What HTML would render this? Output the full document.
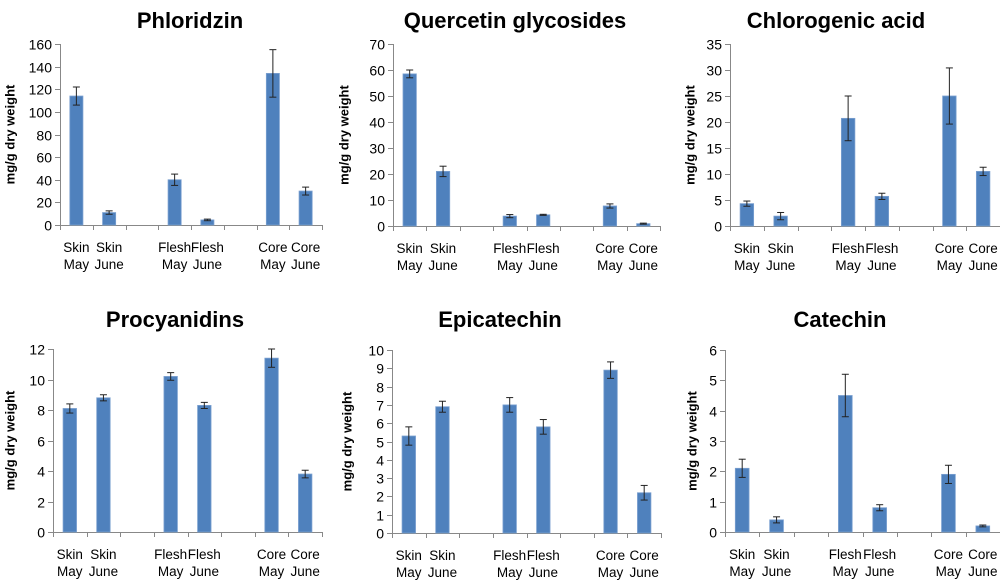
<!DOCTYPE html>
<html><head><meta charset="utf-8"><style>
html,body{margin:0;padding:0;background:#fff;width:1000px;height:580px;overflow:hidden}
svg text{font-family:"Liberation Sans",sans-serif}
</style></head><body>
<svg id="c" width="1000" height="580" xmlns="http://www.w3.org/2000/svg"></svg>
<script>
const categories = ["Skin May","Skin June","Flesh May","Flesh June","Core May","Core June"];
const slotIndex = [0,1,3,4,6,7];
const titles = ["Phloridzin","Quercetin glycosides","Chlorogenic acid","Procyanidins","Epicatechin","Catechin"];
const phloridzin = [114,11,40,4.5,134,30];
const phloridzinErr = [8,1.5,5,0.7,21,3.5];
const quercetin = [58.5,21,3.8,4.3,7.7,0.9];
const quercetinErr = [1.5,2,0.6,0.2,0.8,0.2];
const chlorogenic = [4.3,1.9,20.7,5.7,25,10.5];
const chlorogenicErr = [0.5,0.7,4.3,0.6,5.4,0.8];
const procyanidins = [8.1,8.8,10.2,8.3,11.4,3.8];
const procyanidinsErr = [0.3,0.2,0.25,0.2,0.6,0.25];
const epicatechin = [5.3,6.9,7.0,5.8,8.9,2.2];
const epicatechinErr = [0.5,0.3,0.4,0.4,0.45,0.4];
const catechin = [2.1,0.4,4.5,0.8,1.9,0.2];
const catechinErr = [0.3,0.1,0.7,0.1,0.3,0.03];
const yMax = [160,70,35,12,10,6];
const yStep = [20,10,5,2,1,1];

const values = [phloridzin,quercetin,chlorogenic,procyanidins,epicatechin,catechin];
const errs = [phloridzinErr,quercetinErr,chlorogenicErr,procyanidinsErr,epicatechinErr,catechinErr];
const boxes = [
 {x0:60,x1:322,y0:44,y1:225,tx:190,ty:28,lx:10},
 {x0:393,x1:660,y0:44,y1:226,tx:515,ty:28,lx:344},
 {x0:730,x1:1000,y0:44,y1:226,tx:836,ty:28,lx:690},
 {x0:53,x1:322,y0:349,y1:532,tx:175,ty:327,lx:10},
 {x0:392,x1:661,y0:350,y1:533,tx:500,ty:327,lx:347},
 {x0:725,x1:1000,y0:350,y1:532,tx:840,ty:327,lx:692}
];
const svg = document.getElementById('c');
const NS = "http://www.w3.org/2000/svg";
function mk(tag, attrs, parent){
  const e = document.createElementNS(NS, tag);
  for (const k in attrs) e.setAttribute(k, attrs[k]);
  (parent||svg).appendChild(e);
  return e;
}
boxes.forEach((b,p)=>{
  const g = mk('g',{});
  
  
  const yS = v => b.y1 - v/yMax[p]*(b.y1-b.y0);
  const slot = (b.x1-b.x0)/8;
  const xC = i => b.x0 + (slotIndex[i]+0.5)*slot;
  const t = mk('text',{x:b.tx,y:b.ty,'text-anchor':'middle','font-size':22,'font-weight':'bold',fill:'#000'},g);
  t.textContent = titles[p];
  
  
  const cy = (b.y0+b.y1)/2;
  const yl = mk('text',{x:b.lx,y:cy,transform:`rotate(-90 ${b.lx} ${cy})`,'text-anchor':'middle','dominant-baseline':'central','font-size':13,'font-weight':'bold',fill:'#000'},g);
  yl.textContent = 'mg/g dry weight';
  
  
  mk('line',{x1:b.x0+0.5,y1:b.y0,x2:b.x0+0.5,y2:b.y1,stroke:'#888','stroke-width':1},g);
  for (let v=0; v<=yMax[p]+1e-9; v+=yStep[p]){
    const y = Math.round(yS(v))+0.5;
    mk('line',{x1:b.x0-5,y1:y,x2:b.x0,y2:y,stroke:'#888'},g);
    const tl = mk('text',{x:b.x0-8,y:y+5,'text-anchor':'end','font-size':14,fill:'#000'},g);
    tl.textContent = String(v);
    
    
  }
  mk('line',{x1:b.x0,y1:b.y1+0.5,x2:b.x1,y2:b.y1+0.5,stroke:'#888'},g);
  for (let i=0;i<=8;i++){
    const x = Math.round(b.x0+i*slot)+0.5;
    mk('line',{x1:x,y1:b.y1,x2:x,y2:b.y1+5,stroke:'#888'},g);
  }
  categories.forEach((c,i)=>{
    const v = values[p][i], e = errs[p][i];
    const x = xC(i), w = slot*0.4;
    const r = mk('rect',{x:x-w/2,y:yS(v),width:w,height:b.y1-yS(v),fill:'#4f81bd',stroke:'#7ba0d0','stroke-width':0.8},g);
    
    
    const eg = mk('g',{stroke:'#222','stroke-width':1},g);
    
    
    mk('line',{x1:x,y1:yS(v+e),x2:x,y2:yS(v-e)},eg);
    mk('line',{x1:x-3.5,y1:yS(v+e),x2:x+3.5,y2:yS(v+e)},eg);
    mk('line',{x1:x-3.5,y1:yS(v-e),x2:x+3.5,y2:yS(v-e)},eg);
    const parts = c.split(' ');
    const lab = mk('text',{x:x,y:b.y1+27,'text-anchor':'middle','font-size':13.5,fill:'#000'},g);
    
    
    mk('tspan',{x:x,dy:0},lab).textContent = parts[0];
    mk('tspan',{x:x,dy:17},lab).textContent = parts[1];
  });
});
</script>
</body></html>
